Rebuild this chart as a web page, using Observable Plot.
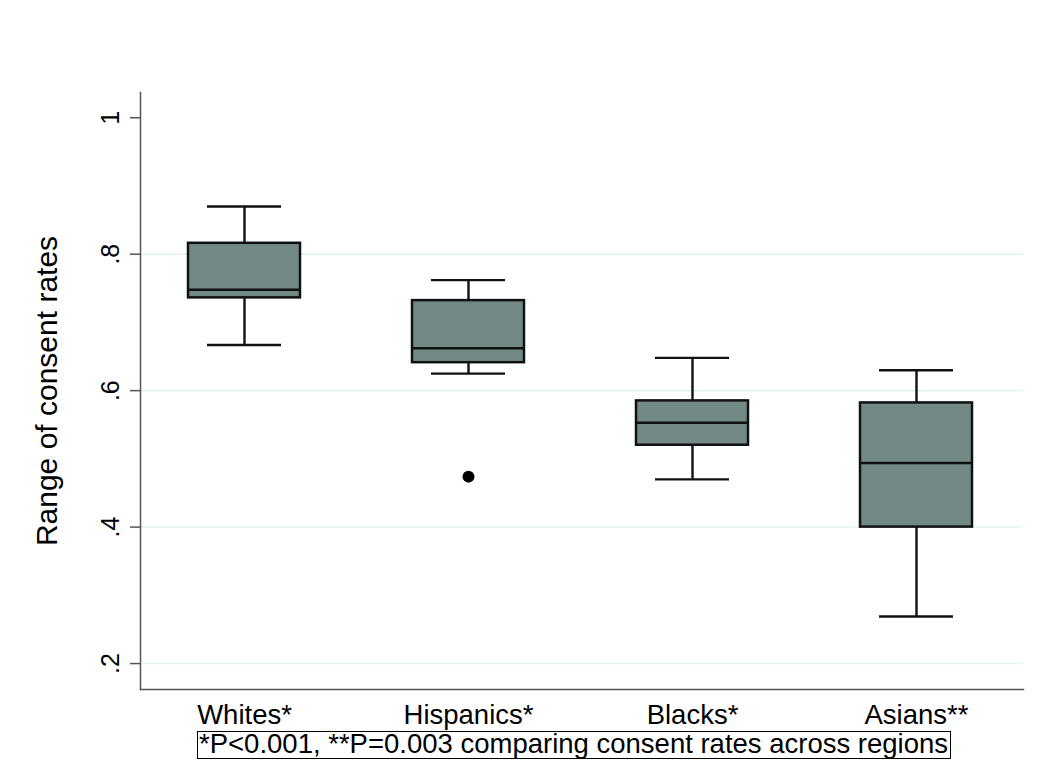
<!DOCTYPE html>
<html>
<head>
<meta charset="utf-8">
<script src="https://cdn.jsdelivr.net/npm/d3@7"></script>
<script src="https://cdn.jsdelivr.net/npm/@observablehq/plot@0.6"></script>
<style>
  html, body { margin: 0; padding: 0; background: #fff; }
  #wrap { position: relative; width: 1050px; height: 764px; font-family: "Liberation Sans", Arial, sans-serif; }
  #caption {
    position: absolute; left: 197px; top: 731px; width: 754px; height: 28px;
    box-sizing: border-box; border: 1px solid #000; font-size: 27.5px; line-height: 23px;
    padding-left: 1px; white-space: nowrap; overflow: visible; color: #000;
  }
</style>
</head>
<body>
<div id="wrap"><div id="chart"></div><div id="caption"></div></div>
<script>
// Data
const groups = ["Whites*", "Hispanics*", "Blacks*", "Asians**"];
const lowerWhisker = [0.667, 0.625, 0.470, 0.269];
const q1 = [0.736, 0.641, 0.520, 0.400];
const median = [0.748, 0.662, 0.553, 0.494];
const q3 = [0.816, 0.732, 0.585, 0.582];
const upperWhisker = [0.870, 0.762, 0.648, 0.630];
const outlierGroups = ["Hispanics*"];
const outlierValues = [0.474];
const yTicks = [0.2, 0.4, 0.6, 0.8, 1];
const gridTicks = [0.2, 0.4, 0.6, 0.8];
const yLabel = "Range of consent rates";
const captionText = "*P<0.001, **P=0.003 comparing consent rates across regions";

const rows = groups.map((g, i) => ({group: g, lo: lowerWhisker[i], q1: q1[i], med: median[i], q3: q3[i], hi: upperWhisker[i]}));
const outliers = outlierGroups.map((g, i) => ({group: g, value: outlierValues[i]}));
const yDomain = [0.162, 1.037];
const fmt = d => d === 1 ? "1" : String(d).replace(/^0\./, ".");

const chart = Plot.plot({
  width: 1050,
  height: 732,
  marginLeft: 140,
  marginRight: 27,
  marginTop: 92,
  marginBottom: 43,
  style: {fontFamily: "Liberation Sans, Arial, sans-serif", color: "#000", background: "#fff"},
  x: {domain: groups, range: [132, 1028], paddingInner: 0.5, paddingOuter: 0.25},
  y: {domain: yDomain},
  marks: [
    Plot.ruleY(gridTicks, {y: d => d, stroke: "#e0f3f1", strokeWidth: 1.5}),
    Plot.axisY({ticks: yTicks, tickFormat: fmt, tickSize: 10, tickPadding: 12, tickRotate: -90, fontSize: 25, stroke: "#555", strokeWidth: 1.5, label: null}),
    Plot.text([yLabel], {frameAnchor: "left", dx: -93, rotate: -90, textAnchor: "middle", lineAnchor: "middle", fontSize: 30, fill: "#000"}),
    Plot.axisX({tickSize: 0, tickPadding: 14.5, fontSize: 27.5, label: null}),
    Plot.ruleX(rows, {x: "group", y1: "lo", y2: "q1", stroke: "#111", strokeWidth: 2.4}),
    Plot.ruleX(rows, {x: "group", y1: "q3", y2: "hi", stroke: "#111", strokeWidth: 2.4}),
    Plot.tickY(rows, {x: "group", y: "lo", insetLeft: 19, insetRight: 19, stroke: "#111", strokeWidth: 2.4}),
    Plot.tickY(rows, {x: "group", y: "hi", insetLeft: 19, insetRight: 19, stroke: "#111", strokeWidth: 2.4}),
    Plot.barY(rows, {x: "group", y1: "q1", y2: "q3", fill: "#738985", stroke: "#111", strokeWidth: 2.5}),
    Plot.tickY(rows, {x: "group", y: "med", stroke: "#111", strokeWidth: 2.5}),
    Plot.dot(outliers, {x: "group", y: "value", r: 6, fill: "#000", stroke: "none"}),
    Plot.frame({anchor: "left", stroke: "#555", strokeWidth: 1.5}),
    Plot.frame({anchor: "bottom", stroke: "#555", strokeWidth: 1.5})
  ]
});
document.getElementById("chart").appendChild(chart);
document.getElementById("caption").textContent = captionText;
</script>
</body>
</html>
